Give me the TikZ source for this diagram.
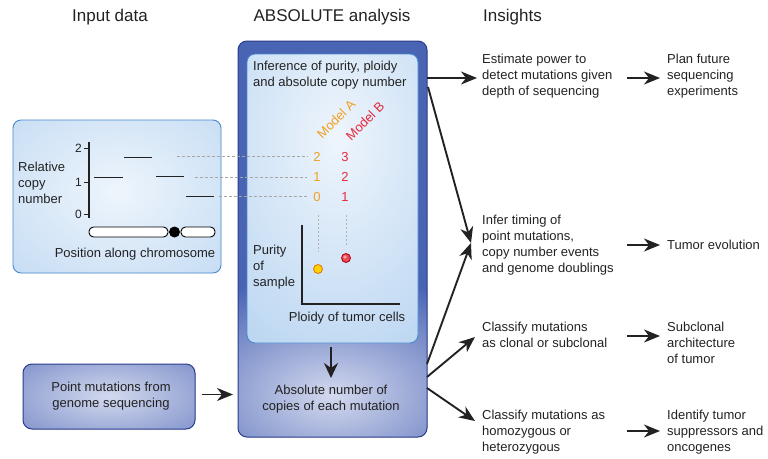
\documentclass[tikz,border=0pt]{standalone}
\usepackage{fontspec}
\setmainfont{Liberation Sans}
\usetikzlibrary{arrows.meta,calc}
\definecolor{bigblue}{HTML}{4A64B4}
\definecolor{bigborder}{HTML}{2B3C8C}
\definecolor{bigcenter}{HTML}{D3D9EE}
\definecolor{lbedge}{HTML}{A9CBEE}
\definecolor{lbcenter}{HTML}{EEF5FC}
\definecolor{lbborder}{HTML}{4A88D0}
\definecolor{orangeA}{HTML}{F0A020}
\definecolor{redB}{HTML}{E8283C}
\definecolor{txtc}{HTML}{222222}
\begin{document}
\begin{tikzpicture}[x=1pt,y=-1pt,
  txt/.style={font=\fontsize{13}{16}\selectfont, text=txtc, inner sep=0pt, align=left},
  ctxt/.style={txt, align=center},
  head/.style={font=\fontsize{17}{20}\selectfont, text=txtc, inner sep=0pt},
  arr/.style={line width=1.9pt, draw=txtc, -{Stealth[length=16pt,width=13pt,inset=5pt]}},
  dashg/.style={gray!70, dash pattern=on 3pt off 2pt, line width=0.8pt},
  dotg/.style={gray!60, dash pattern=on 2pt off 2pt, line width=1pt},
  lightbox/.style={draw=lbborder, line width=0.9pt, rounded corners=8pt, inner sep=0pt, outer sep=0pt},
  darkbox/.style={draw=bigborder, line width=1pt, rounded corners=9pt, inner sep=0pt, outer sep=0pt},
]
\useasboundingbox (0,0) rectangle (768,458);

% headings
\node[head] (h1) at (110,17) {Input data};
\node[head] (h2) at (332,17) {ABSOLUTE analysis};
\node[head, anchor=west] (h3) at (483,17) {Insights};

% big box
\node[darkbox, minimum width=189pt, minimum height=396pt,
  path picture={
    \fill[bigblue] (path picture bounding box.north west) rectangle (path picture bounding box.south east);
    \shade[inner color=bigcenter, outer color=bigblue] ($(path picture bounding box.south)+(0,-42)$) ellipse (200pt and 120pt);
  }] (big) at (332.5,239) {};

% inner light box
\node[lightbox, minimum width=171pt, minimum height=289pt,
  path picture={
    \fill[lbedge] (path picture bounding box.north west) rectangle (path picture bounding box.south east);
    \shade[inner color=lbcenter, outer color=lbedge] ($(path picture bounding box.center)+(5,-60)$) ellipse (220pt and 330pt);
  }] (inner) at (332.5,198.5) {};

% left box
\node[lightbox, minimum width=208pt, minimum height=153pt,
  path picture={
    \fill[lbedge] (path picture bounding box.north west) rectangle (path picture bounding box.south east);
    \shade[inner color=lbcenter, outer color=lbedge] ($(path picture bounding box.center)+(0,-5)$) ellipse (260pt and 200pt);
  }] (left) at (117,196.5) {};

% point mutations box
\node[darkbox, minimum width=172pt, minimum height=65pt,
  path picture={
    \fill[bigblue] (path picture bounding box.north west) rectangle (path picture bounding box.south east);
    \shade[inner color=bigcenter, outer color=bigblue] (path picture bounding box.center) ellipse (200pt and 85pt);
  }] (pm) at (109,396.5) {};
\node[ctxt] (pmt) at (111,396) {Point mutations from\\genome sequencing};

% ---- left plot
\coordinate (ax0) at (89,142);
\coordinate (ax1) at (89,218);
\draw[line width=1.1pt, txtc] (ax0) -- (ax1);
\foreach \yy/\lab/\nm in {148/2/t2,182/1/t1,214/0/t0}{
  \draw[line width=0.8pt, txtc] (84,\yy) -- (89,\yy);
  \node[txt, font=\fontsize{12}{14}\selectfont, anchor=east] (\nm) at (82,\yy) {\lab};
}
\node[txt, anchor=west] (rcn) at (18,183) {Relative\\copy\\number};
\draw[line width=1pt, txtc] (94,177) -- (123,177);
\draw[line width=1pt, txtc] (124,157) -- (152,157);
\draw[line width=1pt, txtc] (156,176) -- (184,176);
\draw[line width=1pt, txtc] (186,196) -- (214,196);
% chromosome
\draw[line width=0.9pt, fill=white, rounded corners=4.5pt] (89,227) rectangle (168,237);
\fill[black] (174.5,232) circle (5.5pt);
\draw[line width=0.9pt, fill=white, rounded corners=4.5pt] (181,227) rectangle (215,237);
\node[txt] (pac) at (135,254) {Position along chromosome};

% ---- inner content
\node[txt, anchor=west] (inf) at (253,75) {Inference of purity, ploidy\\and absolute copy number};
\node[txt, text=orangeA, rotate=45] (mA) at (336,119) {Model A};
\node[txt, text=redB, rotate=45] (mB) at (365,121) {Model B};
\node[txt, text=orangeA] (a2) at (317,157) {2};
\node[txt, text=orangeA] (a1) at (317,177) {1};
\node[txt, text=orangeA] (a0) at (317,197) {0};
\node[txt, text=redB] (b3) at (345,157) {3};
\node[txt, text=redB] (b2) at (345,177) {2};
\node[txt, text=redB] (b1) at (345,197) {1};
% dashed links
\coordinate (s2) at (177,156);
\coordinate (s1) at (195,177);
\coordinate (s0) at (219,196);
\draw[dashg] (s2) -- ($(a2.west)+(-6,-1)$);
\draw[dashg] (s1) -- ($(a1.west)+(-6,0)$);
\draw[dashg] (s0) -- ($(a0.west)+(-6,-1)$);
% dotted verticals
\draw[dotg] (318,215) -- (318,252);
\draw[dotg] (346,215) -- (346,245);
% plot axes
\draw[line width=1.1pt, txtc] (302,225) -- (302,304) -- (400,304);
\draw[draw=orange!90!black, fill=yellow!70!orange, line width=0.8pt] (318,269) circle (4.5pt);
\draw[draw=red!70!black, fill=redB!85, line width=0.8pt] (346,258) circle (4.5pt);
\fill[white, opacity=0.5] (345,257) circle (1.8pt);
\node[txt, anchor=west] (pur) at (253,267) {Purity\\of\\sample};
\node[txt] (plo) at (347,318) {Ploidy of tumor cells};

% down arrow
\coordinate (dn0) at (331,347);
\coordinate (dn1) at (331,378);
\draw[line width=2pt, txtc, -{Stealth[length=15pt,width=14pt,inset=5pt]}] (dn0) -- (dn1);
\node[ctxt] (abs) at (331,399) {Absolute number of\\copies of each mutation};

% arrow from point mutations
\draw[arr] ($(pm.east)+(7,-2)$) -- ($(big.west |- pm.east)+(-5,-2)$);

% ---- right column
\node[txt, anchor=west] (est) at (482,76) {Estimate power to\\detect mutations given\\depth of sequencing};
\node[txt, anchor=west] (plan) at (667,76) {Plan future\\sequencing\\experiments};
\node[txt, anchor=west] (infr) at (482,245) {Infer timing of\\point mutations,\\copy number events\\and genome doublings};
\node[txt, anchor=west] (tev) at (667,245) {Tumor evolution};
\node[txt, anchor=west] (clo) at (482,335) {Classify mutations\\as clonal or subclonal};
\node[txt, anchor=west] (sub) at (667,343) {Subclonal\\architecture\\of tumor};
\node[txt, anchor=west] (hom) at (482,432) {Classify mutations as\\homozygous or\\heterozygous};
\node[txt, anchor=west] (idt) at (667,432) {Identify tumor\\suppressors and\\oncogenes};

\coordinate (e1) at (477,78);
\draw[arr] (big.east |- e1) -- (e1);
\coordinate (d1s) at (428,87);
\coordinate (dT) at (471,243);
\draw[arr] (d1s) -- (dT);
\coordinate (d2s) at (427,364);
\draw[arr] (d2s) -- (dT);
\coordinate (d3s) at (427,377);
\coordinate (d3e) at (475,337);
\draw[arr] (d3s) -- (d3e);
\coordinate (d4s) at (427,388);
\coordinate (d4e) at (475,421);
\draw[arr] (d4s) -- (d4e);

\draw[arr] (627,78) -- (660,78);
\draw[arr] (627,245) -- (660,245);
\draw[arr] (627,336) -- (660,336);
\draw[arr] (627,431) -- (660,431);
\end{tikzpicture}
\end{document}
